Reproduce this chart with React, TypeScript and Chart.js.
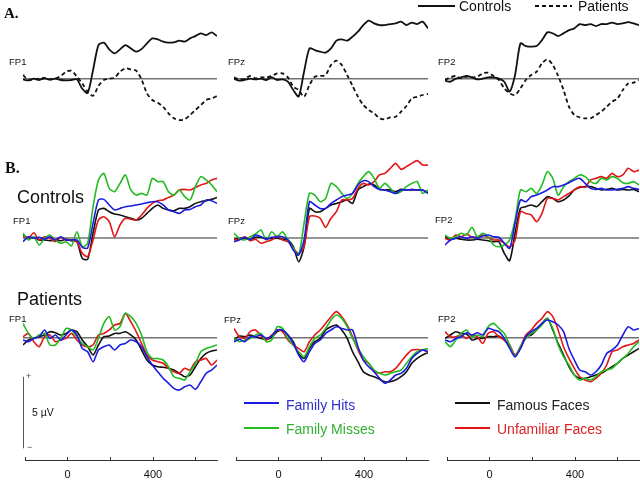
import React, { useEffect, useRef } from "react";
import { Chart, registerables } from "chart.js";

Chart.register(...registerables);

// ---------- data (µV, time in ms) ----------
const TIME = [-200, -175, -150, -125, -100, -75, -50, -25, 0, 25, 50, 75, 100, 125, 150, 175, 200, 225, 250, 275, 300, 325, 350, 375, 400, 425, 450, 475, 500, 525, 550, 575, 600, 625, 650, 675, 700];
const TICK_LABELS = [0, 400];
const ELECTRODES = ["FP1", "FPz", "FP2"];
const SCALE_BAR_UV = 5;
const SCALE_BAR_TOP_UV = -2.73;

// Part A: grand averages
const A_FP1_CONTROLS = [-0.05, -0.12, 0, -0.09, 0.02, -0.07, 0, -0.09, -0.12, -0.09, -0.05, -0.7, -1.0, 0.61, 2.35, 2.52, 2.05, 1.77, 2.05, 2.35, 2.12, 1.89, 2.07, 2.47, 2.82, 2.75, 2.59, 2.52, 2.54, 2.66, 2.59, 2.82, 2.98, 3.17, 3.05, 3.24, 2.98];
const A_FP1_PATIENTS = [0.26, -0.09, -0.05, 0, 0.05, -0.05, 0.02, 0.19, 0.49, 0.56, 0.14, -0.33, -0.91, -1.19, -0.51, -0.09, 0, 0.07, 0.49, 0.72, 0.65, 0.56, -0.05, -1.03, -1.49, -1.68, -1.96, -2.42, -2.77, -2.89, -2.84, -2.54, -2.19, -1.84, -1.49, -1.38, -1.21];
const A_FPZ_CONTROLS = [0, -0.14, -0.09, 0, -0.05, 0, -0.09, 0.09, -0.09, -0.05, -0.21, -0.79, -1.25, 0.49, 2.12, 2.0, 1.89, 1.82, 2.12, 2.66, 2.75, 2.66, 2.94, 3.29, 3.75, 4.06, 3.87, 3.75, 3.75, 3.82, 3.87, 3.99, 3.75, 3.92, 3.82, 3.99, 3.52];
const A_FPZ_PATIENTS = [0.09, -0.05, 0, 0.19, 0.02, 0.09, 0.09, 0.19, 0.37, 0.37, 0.09, -0.56, -0.79, -1.26, -0.44, 0.14, 0.19, 0.26, 0.96, 1.26, 0.96, 0.26, -0.51, -1.26, -1.84, -2.19, -2.42, -2.77, -2.84, -2.7, -2.66, -2.31, -1.91, -1.38, -1.26, -1.14, -1.07];
const A_FP2_CONTROLS = [-0.14, -0.21, 0, 0.09, 0.19, 0.09, -0.05, 0, 0.09, 0.09, 0, -0.21, -0.9, 0.26, 2.47, 2.28, 2.24, 2.28, 2.7, 3.24, 3.17, 2.98, 3.17, 3.4, 3.52, 3.82, 3.75, 3.82, 3.68, 3.82, 3.82, 3.92, 3.82, 3.87, 3.96, 3.87, 3.75];
const A_FP2_PATIENTS = [-0.09, 0.09, 0.19, 0.02, 0.14, 0.09, 0.14, 0.37, 0.42, 0.19, -0.09, -0.68, -1.03, -1.14, -0.68, -0.09, 0.26, 0.49, 1.07, 1.35, 0.96, 0.19, -0.79, -1.96, -2.54, -2.7, -2.77, -2.77, -2.54, -2.31, -1.96, -1.61, -1.38, -0.79, -0.33, -0.28, -0.09];

// Part B: Controls
const C_FP1_HITS = [-0.26, 0.09, -0.02, 0.05, -0.09, 0.09, -0.14, 0.09, -0.14, -0.14, -0.14, -0.65, -0.7, 1.03, 2.66, 2.7, 2.31, 1.96, 2.07, 2.19, 2.24, 2.31, 2.38, 2.47, 2.54, 2.54, 2.31, 1.96, 1.84, 1.72, 1.96, 2.0, 2.19, 2.31, 2.66, 2.61, 2.42];
const C_FP1_MISSES = [0.33, -0.14, 0.09, -0.49, -0.02, 0.21, -0.14, -0.37, -0.26, -0.56, 0.44, -0.61, -0.37, 2.19, 4.06, 4.52, 3.47, 3.24, 3.82, 4.41, 3.36, 3.0, 3.12, 3.0, 4.17, 3.94, 3.94, 3.24, 3.0, 3.36, 2.89, 2.66, 3.59, 4.29, 4.06, 3.71, 3.24];
const C_FP1_FAMOUS = [0.21, -0.02, 0.05, -0.14, -0.14, -0.19, -0.14, -0.19, -0.09, -0.19, -0.26, -1.42, -1.49, 0.33, 1.96, 2.07, 1.84, 1.68, 1.61, 1.49, 1.38, 1.26, 1.38, 1.72, 2.07, 2.31, 2.07, 1.96, 1.91, 2.07, 2.07, 2.19, 2.42, 2.54, 2.61, 2.7, 2.84];
const C_FP1_UNFAMILIAR = [0.09, -0.02, 0.37, -0.14, 0.09, -0.02, -0.26, 0.05, -0.14, -0.14, -0.26, -1.07, -1.3, -0.14, 1.26, 1.49, 1.14, 0.09, 0.91, 1.38, 1.31, 1.26, 1.61, 2.07, 2.42, 2.61, 2.66, 2.84, 3.0, 3.36, 3.4, 3.36, 3.54, 3.71, 3.82, 4.06, 4.17];

const C_FPZ_HITS = [-0.26, -0.14, 0.05, -0.14, 0.21, 0.09, -0.09, 0.05, 0.09, 0.09, -0.14, -0.84, -1.19, -0.14, 2.54, 2.31, 2.07, 2.07, 2.42, 2.66, 2.89, 3.0, 3.12, 3.71, 4.01, 3.94, 3.59, 3.4, 3.36, 3.24, 3.12, 3.36, 3.36, 3.4, 3.36, 3.36, 3.12];
const C_FPZ_MISSES = [0.33, -0.02, -0.14, 0.09, 0.28, 0.56, -0.14, 0.44, 0.09, 0.44, -0.14, -0.72, -1.19, 1.03, 3.12, 3.0, 2.54, 2.77, 3.82, 3.59, 3.12, 2.77, 3.12, 3.82, 4.29, 4.64, 4.17, 3.47, 3.82, 3.47, 3.12, 3.24, 3.59, 3.82, 3.94, 3.12, 3.36];
const C_FPZ_FAMOUS = [-0.09, -0.02, -0.02, -0.09, 0.05, 0.05, -0.02, -0.05, -0.02, -0.09, -0.14, -0.61, -1.66, -0.61, 2.07, 1.84, 1.84, 2.07, 2.31, 2.42, 2.54, 2.66, 2.42, 3.36, 3.59, 3.78, 3.71, 3.4, 3.36, 3.36, 3.24, 3.4, 3.36, 3.36, 3.36, 3.36, 3.17];
const C_FPZ_UNFAMILIAR = [-0.14, -0.09, 0.09, -0.19, -0.09, -0.37, -0.26, -0.14, 0.14, -0.14, -0.26, -0.72, -1.07, -0.61, 1.49, 1.54, 1.38, 0.75, 1.38, 1.84, 2.66, 2.66, 2.77, 3.47, 3.82, 3.71, 3.94, 4.41, 4.52, 4.87, 5.22, 4.8, 4.99, 5.22, 5.41, 5.1, 5.1];

const C_FP2_HITS = [-0.49, -0.14, -0.02, 0.09, -0.02, 0.09, -0.02, 0.14, 0.21, 0.09, 0.05, -0.37, -0.72, 1.03, 2.66, 2.54, 2.89, 3.0, 3.17, 3.36, 3.59, 3.59, 3.71, 3.87, 4.06, 4.17, 3.82, 3.47, 3.4, 3.47, 3.36, 3.36, 3.4, 3.47, 3.59, 3.47, 3.4];
const C_FP2_MISSES = [0.21, -0.02, 0.09, 0.33, 0.21, 0.75, 0.09, 0.33, 0.09, -0.49, -0.61, -0.49, -0.14, 1.26, 3.36, 3.24, 3.47, 3.12, 3.71, 4.64, 4.17, 3.0, 3.59, 3.94, 4.17, 4.41, 4.29, 3.94, 3.82, 4.17, 4.06, 4.29, 4.17, 3.87, 3.82, 3.94, 3.71];
const C_FP2_FAMOUS = [0.09, -0.09, -0.02, -0.09, -0.14, -0.14, -0.09, -0.14, -0.19, -0.26, -0.26, -1.07, -1.59, 0.33, 2.07, 2.19, 2.31, 2.19, 2.54, 2.89, 2.77, 2.54, 2.66, 2.94, 3.36, 3.54, 3.59, 3.59, 3.47, 3.36, 3.4, 3.47, 3.36, 3.4, 3.36, 3.4, 3.24];
const C_FP2_UNFAMILIAR = [-0.02, -0.14, 0.21, 0.09, 0.28, 0.05, 0.09, 0.21, 0.05, -0.14, -0.14, -0.37, -0.61, -0.14, 1.84, 1.72, 1.61, 1.14, 1.72, 2.77, 2.77, 2.66, 2.89, 3.12, 3.36, 3.59, 3.54, 4.06, 4.17, 4.29, 4.17, 4.52, 4.29, 4.41, 4.87, 4.64, 4.75];

// Part B: Patients
const P_FP1_HITS = [-0.16, -0.28, -0.05, 0.07, 0.54, -0.05, 0.19, -0.16, 0.19, 0.54, 0.19, -0.75, -0.98, -1.68, -0.86, -0.63, -0.51, -0.86, -0.51, -0.4, -0.16, -0.28, -0.63, -1.33, -1.91, -2.38, -2.84, -3.19, -3.54, -3.66, -3.43, -3.31, -3.61, -3.08, -2.49, -2.26, -1.91];
const P_FP1_MISSES = [1.0, 0.3, -0.05, 0.19, 0.3, -0.51, -0.51, -0.05, 0.65, 0.54, 0.07, -0.4, -0.63, -0.86, -0.05, 1.0, 1.47, 0.54, 0.77, 1.7, 1.47, 1.0, 0.19, -0.98, -1.45, -1.45, -1.56, -2.03, -2.73, -2.84, -2.96, -2.38, -1.79, -0.98, -0.75, -0.63, -0.51];
const P_FP1_FAMOUS = [-0.51, -0.16, -0.05, 0.07, 0.19, 0.42, 0.35, 0.19, 0.3, 0.54, 0.42, -0.16, -0.63, -1.21, -0.51, 0.07, 0.12, 0.3, 0.3, 0.42, 0.19, -0.16, -0.86, -1.56, -1.91, -2.03, -2.07, -2.14, -2.26, -2.49, -2.73, -2.61, -2.03, -1.45, -1.1, -0.93, -0.86];
const P_FP1_UNFAMILIAR = [0.07, 0.3, -0.28, -0.63, 0.07, 0.19, -0.28, -0.16, -0.05, 0.3, -0.16, -0.51, -0.63, -0.51, 0.19, 0.3, 0.54, 0.89, 1.0, 1.7, 1.12, 0.42, -0.4, -1.21, -1.56, -1.68, -1.79, -2.14, -2.38, -2.49, -2.14, -2.26, -1.68, -1.56, -1.45, -1.91, -1.56];

const P_FPZ_HITS = [-0.28, -0.12, -0.28, 0.07, 0.07, 0.19, -0.05, 0.12, 0.54, 0.54, 0.19, -0.4, -1.21, -1.68, -0.98, -0.4, -0.16, 0.3, 0.54, 0.77, 0.65, 0.54, 0.54, -0.63, -1.56, -2.03, -2.38, -2.84, -3.19, -2.96, -2.61, -2.49, -2.14, -1.45, -1.1, -0.86, -0.98];
const P_FPZ_MISSES = [-0.05, -0.28, -0.16, -0.05, 0.19, 0.3, -0.28, -0.16, 0.77, 0.65, -0.05, -0.51, -0.98, -1.33, -0.63, -0.05, 0.19, 0.65, 1.24, 1.59, 1.35, 0.77, -0.05, -0.75, -1.33, -1.79, -2.26, -2.49, -2.61, -2.49, -2.38, -2.26, -1.79, -1.33, -0.98, -0.86, -0.75];
const P_FPZ_FAMOUS = [-0.16, 0.12, 0.07, 0.19, 0.07, -0.05, -0.12, 0.02, 0.42, 0.54, 0.19, -0.28, -1.1, -1.45, -0.75, -0.28, -0.05, 0.54, 0.77, 0.89, 0.54, -0.05, -0.98, -1.68, -2.38, -2.61, -2.73, -2.91, -3.08, -3.08, -2.96, -2.73, -2.38, -1.79, -1.45, -1.21, -1.05];
const P_FPZ_UNFAMILIAR = [0.65, 0.07, -0.05, 0.42, 0.54, 0.12, -0.16, 0.19, 0.54, 0.42, -0.16, -0.51, -0.75, -0.98, -0.28, 0.19, 0.54, 1.0, 1.47, 1.82, 1.47, 0.89, 0.07, -0.86, -1.56, -1.79, -2.38, -2.49, -2.38, -2.38, -2.14, -1.68, -1.21, -0.86, -0.82, -0.86, -0.98];

const P_FP2_HITS = [-0.16, -0.28, -0.05, 0.07, 0.35, 0.19, 0.35, 0.19, 0.65, 0.54, 0.42, -0.05, -0.75, -1.33, -0.75, 0.07, 0.42, 0.65, 1.0, 1.24, 1.12, 0.89, 0.42, -0.75, -1.56, -2.26, -2.38, -2.61, -2.38, -1.91, -1.1, -0.86, -0.51, 0.19, 0.77, 0.54, 0.65];
const P_FP2_MISSES = [-0.28, -0.63, -0.16, 0.3, 0.54, 0.07, 0.19, 0.07, 0.77, 1.0, 0.65, 0.3, -0.51, -1.33, -0.63, -0.05, 0.3, 0.54, 0.89, 1.35, 0.65, -0.51, -1.33, -1.91, -2.61, -2.96, -2.84, -2.96, -2.73, -2.38, -2.26, -2.14, -1.79, -1.45, -1.1, -0.63, -0.28];
const P_FP2_FAMOUS = [-0.05, 0.19, 0.42, 0.3, 0.26, -0.16, -0.05, -0.05, 0.07, 0.07, 0.12, -0.16, -0.63, -1.21, -0.75, 0.07, 0.19, 0.54, 1.0, 1.35, 0.54, -0.4, -1.21, -2.03, -2.61, -2.84, -2.84, -2.73, -2.61, -2.49, -2.26, -2.03, -1.79, -1.45, -1.21, -0.98, -0.75];
const P_FP2_UNFAMILIAR = [0.42, 0.07, 0.07, 0.19, -0.05, 0.19, 0.07, -0.4, 0.3, 0.42, 0.07, -0.16, -0.51, -1.21, -0.63, 0.19, 0.54, 1.0, 1.35, 1.82, 1.47, 0.54, -0.63, -1.45, -2.14, -2.73, -2.96, -3.08, -2.84, -2.49, -1.91, -0.98, -0.86, -0.63, -0.51, -0.4, -0.16];

// ---------- layout & style ----------
const SANS = "Arial, 'Liberation Sans', Helvetica, sans-serif";
const SERIF = "'Times New Roman', 'Liberation Serif', Times, serif";
const X_MIN = -200;
const X_MAX = 700;
const PX_PER_UV = 14.3;
const PLOT_W = 194;
const PAD = 6;
const COLUMN_LEFT = [23, 234, 445];
const COLORS = { hits: "#1c1ce0", misses: "#22bb22", famous: "#111111", unfamiliar: "#e21616" };
const ZERO_COLOR = "#727272";

function trace(values: number[], color: string, width: number, dash: number[] = []) {
  return {
    data: TIME.map((t, i) => ({ x: t, y: values[i] })),
    borderColor: color,
    borderWidth: width,
    borderDash: dash,
    pointRadius: 0,
    tension: 0.25,
    fill: false,
  };
}
function zeroLine() {
  return {
    data: [{ x: X_MIN, y: 0 }, { x: X_MAX, y: 0 }],
    borderColor: ZERO_COLOR,
    borderWidth: 1.5,
    pointRadius: 0,
    fill: false,
  };
}
function scaleBar() {
  return {
    data: [{ x: X_MIN, y: SCALE_BAR_TOP_UV }, { x: X_MIN, y: SCALE_BAR_TOP_UV - SCALE_BAR_UV }],
    borderColor: "#222222",
    borderWidth: 1.5,
    pointRadius: 0,
    fill: false,
  };
}

function Panel({ col, top, height, zeroY, datasets }: { col: number; top: number; height: number; zeroY: number; datasets: any[] }) {
  const ref = useRef<HTMLCanvasElement | null>(null);
  useEffect(() => {
    const yMax = (zeroY - top) / PX_PER_UV;
    const yMin = -(top + height - zeroY) / PX_PER_UV;
    const chart = new Chart(ref.current as HTMLCanvasElement, {
      type: "line",
      data: { datasets },
      options: {
        animation: false,
        responsive: false,
        events: [],
        layout: { padding: { left: PAD, right: PAD, top: 0, bottom: 0 } },
        plugins: { legend: { display: false }, tooltip: { enabled: false } },
        scales: {
          x: { type: "linear", min: X_MIN, max: X_MAX, display: false },
          y: { type: "linear", min: yMin, max: yMax, display: false },
        },
      },
    } as any);
    return () => chart.destroy();
  }, []);
  const w = PLOT_W + 2 * PAD;
  return (
    <canvas
      ref={ref}
      width={w}
      height={height}
      style={{ position: "absolute", left: COLUMN_LEFT[col] - PAD, top, width: w, height }}
    />
  );
}

function TimeAxis({ col }: { col: number }) {
  const ref = useRef<HTMLCanvasElement | null>(null);
  useEffect(() => {
    const chart = new Chart(ref.current as HTMLCanvasElement, {
      type: "line",
      data: { datasets: [] },
      options: {
        animation: false,
        responsive: false,
        events: [],
        layout: { padding: { left: PAD, right: PAD, top: 0, bottom: 0 } },
        plugins: { legend: { display: false }, tooltip: { enabled: false } },
        scales: {
          x: {
            type: "linear",
            position: "bottom",
            min: X_MIN,
            max: X_MAX,
            afterFit: (s: any) => {
              s.height = 20;
            },
            border: { display: true, color: "#333333", width: 1 },
            grid: { display: true, drawOnChartArea: true, drawTicks: false, color: "#333333", lineWidth: 1 },
            ticks: {
              stepSize: 200,
              includeBounds: false,
              autoSkip: false,
              maxRotation: 0,
              padding: 8,
              color: "#111111",
              font: { family: SANS, size: 11 },
              callback: (v: any) => (TICK_LABELS.includes(Number(v)) ? String(v) : ""),
            },
          },
          y: { type: "linear", min: 0, max: 1, display: false },
        },
      },
    } as any);
    return () => chart.destroy();
  }, []);
  const w = PLOT_W + 2 * PAD;
  return (
    <canvas
      ref={ref}
      width={w}
      height={23}
      style={{ position: "absolute", left: COLUMN_LEFT[col] - PAD, top: 457, width: w, height: 23 }}
    />
  );
}

function Label({ x, y, size, text, color = "#111111", bold = false, serif = false }: any) {
  return (
    <div
      style={{
        position: "absolute",
        left: x,
        top: y - size / 2,
        fontSize: size,
        lineHeight: `${size}px`,
        fontFamily: serif ? SERIF : SANS,
        fontWeight: bold ? "bold" : "normal",
        color,
        whiteSpace: "nowrap",
      }}
    >
      {text}
    </div>
  );
}

function LegendLine({ x1, x2, y, color, dashed = false }: any) {
  return (
    <svg style={{ position: "absolute", left: x1, top: y - 2, width: x2 - x1, height: 4 }} width={x2 - x1} height={4}>
      <line x1={0} y1={2} x2={x2 - x1} y2={2} stroke={color} strokeWidth={2} strokeDasharray={dashed ? "4 3" : undefined} />
    </svg>
  );
}

const A_SETS = [
  [A_FP1_CONTROLS, A_FP1_PATIENTS],
  [A_FPZ_CONTROLS, A_FPZ_PATIENTS],
  [A_FP2_CONTROLS, A_FP2_PATIENTS],
];
const C_SETS = [
  [C_FP1_HITS, C_FP1_MISSES, C_FP1_FAMOUS, C_FP1_UNFAMILIAR],
  [C_FPZ_HITS, C_FPZ_MISSES, C_FPZ_FAMOUS, C_FPZ_UNFAMILIAR],
  [C_FP2_HITS, C_FP2_MISSES, C_FP2_FAMOUS, C_FP2_UNFAMILIAR],
];
const P_SETS = [
  [P_FP1_HITS, P_FP1_MISSES, P_FP1_FAMOUS, P_FP1_UNFAMILIAR],
  [P_FPZ_HITS, P_FPZ_MISSES, P_FPZ_FAMOUS, P_FPZ_UNFAMILIAR],
  [P_FP2_HITS, P_FP2_MISSES, P_FP2_FAMOUS, P_FP2_UNFAMILIAR],
];

function conditionSets(s: number[][]) {
  return [
    trace(s[0], COLORS.hits, 1.6),
    trace(s[1], COLORS.misses, 1.6),
    trace(s[3], COLORS.unfamiliar, 1.6),
    trace(s[2], COLORS.famous, 1.6),
  ];
}

export default function App() {
  const A_LABEL_POS = [[9, 62], [228, 62], [438, 62]];
  const C_LABEL_POS = [[13, 221], [228, 221], [435, 220]];
  const P_LABEL_POS = [[9, 319], [224, 320], [438, 319]];
  return (
    <div style={{ position: "absolute", left: 0, top: 0, width: 640, height: 480, overflow: "hidden", background: "#ffffff" }}>
      {A_SETS.map((s, c) => (
        <Panel
          key={"a" + c}
          col={c}
          top={10}
          height={125}
          zeroY={78.7}
          datasets={[trace(s[0], "#111111", 1.8), trace(s[1], "#111111", 1.8, [4, 3]), zeroLine()]}
        />
      ))}
      {C_SETS.map((s, c) => (
        <Panel key={"c" + c} col={c} top={150} height={125} zeroY={238} datasets={[...conditionSets(s), zeroLine()]} />
      ))}
      {P_SETS.map((s, c) => (
        <Panel
          key={"p" + c}
          col={c}
          top={300}
          height={155}
          zeroY={337.7}
          datasets={c === 0 ? [...conditionSets(s), zeroLine(), scaleBar()] : [...conditionSets(s), zeroLine()]}
        />
      ))}
      {[0, 1, 2].map((c) => (
        <TimeAxis key={"t" + c} col={c} />
      ))}

      <Label x={4} y={13} size={15} text="A." bold serif />
      <Label x={5} y={168} size={16} text="B." bold serif />
      <Label x={17} y={197} size={18} text="Controls" />
      <Label x={17} y={299} size={18} text="Patients" />

      {ELECTRODES.map((e, i) => (
        <Label key={"la" + i} x={A_LABEL_POS[i][0]} y={A_LABEL_POS[i][1]} size={9.5} text={e} />
      ))}
      {ELECTRODES.map((e, i) => (
        <Label key={"lc" + i} x={C_LABEL_POS[i][0]} y={C_LABEL_POS[i][1]} size={9.5} text={e} />
      ))}
      {ELECTRODES.map((e, i) => (
        <Label key={"lp" + i} x={P_LABEL_POS[i][0]} y={P_LABEL_POS[i][1]} size={9.5} text={e} />
      ))}

      {/* top legend */}
      <LegendLine x1={418} x2={455} y={6} color="#111111" />
      <Label x={459} y={6} size={14} text="Controls" />
      <LegendLine x1={535} x2={572} y={6} color="#111111" dashed />
      <Label x={578} y={6} size={14} text="Patients" />

      {/* scale bar labels */}
      <Label x={26} y={376} size={9} text="+" color="#444444" />
      <Label x={27} y={447} size={9} text="−" color="#444444" />
      <Label x={32} y={412.5} size={10.5} text="5 µV" />

      {/* condition legend */}
      <LegendLine x1={244} x2={279} y={402.5} color={COLORS.hits} />
      <Label x={286} y={404.5} size={14} text="Family Hits" color="#3030d0" />
      <LegendLine x1={244} x2={279} y={427.5} color={COLORS.misses} />
      <Label x={286} y={429} size={14} text="Family Misses" color="#30b030" />
      <LegendLine x1={455} x2={490} y={402.5} color={COLORS.famous} />
      <Label x={497} y={404.5} size={14} text="Famous Faces" color="#222222" />
      <LegendLine x1={455} x2={490} y={427.5} color={COLORS.unfamiliar} />
      <Label x={497} y={429} size={14} text="Unfamiliar Faces" color="#dd2222" />
    </div>
  );
}
